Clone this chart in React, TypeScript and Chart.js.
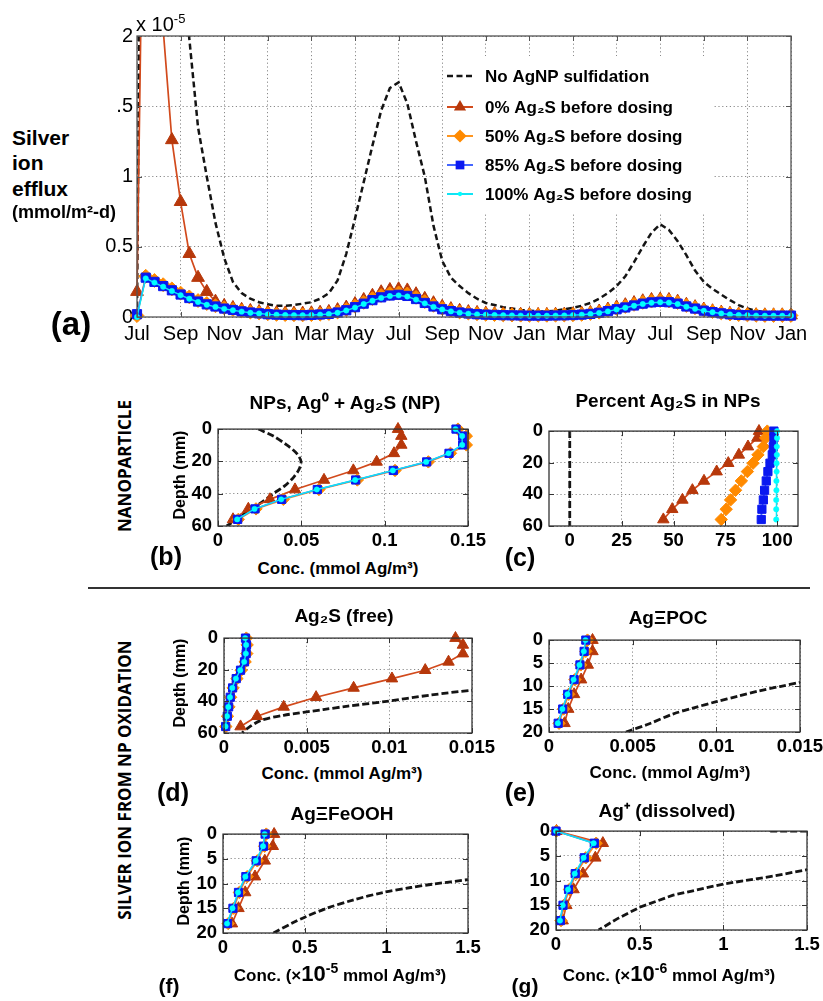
import React, { useEffect, useRef } from 'react';
import { Chart, registerables } from 'chart.js';

Chart.register(...registerables);

const FONT = '"Liberation Sans", Arial, Helvetica, sans-serif';
const SIDE_FONT = '"Open Sans", "Liberation Sans", Arial, sans-serif';

// ---------------- Panel (a): silver ion efflux (x 1e-5 mmol/m2-d) ----------------
const MONTH_STEP = 0.4; // months between model outputs, starting in July
const monthTickValues = [0, 2, 4, 6, 8, 10, 12, 14, 16, 18, 20, 22, 24, 26, 28, 30];
const monthTickLabels = ['Jul', 'Sep', 'Nov', 'Jan', 'Mar', 'May', 'Jul', 'Sep', 'Nov', 'Jan', 'Mar', 'May', 'Jul', 'Sep', 'Nov', 'Jan'];
const effluxTickValues = [0, 0.5, 1, 1.5, 2];
const effluxTickLabels = ['0', '0.5', '1', '.5', '2'];
const seriesNames = [
  'No AgNP sulfidation',
  '0% Ag₂S before dosing',
  '50% Ag₂S before dosing',
  '85% Ag₂S before dosing',
  '100% Ag₂S before dosing',
];

const effluxNoSulf = [
  0, 8, 6, 4.8, 3.6, 2.7, 1.98, 1.35, 1.0, 0.67,
  0.42, 0.25, 0.17, 0.13, 0.105, 0.09, 0.08, 0.08, 0.085, 0.095,
  0.105, 0.13, 0.17, 0.26, 0.45, 0.7, 0.96, 1.22, 1.47, 1.63,
  1.67, 1.52, 1.25, 1.0, 0.65, 0.4, 0.28, 0.22, 0.17, 0.13,
  0.1, 0.085, 0.07, 0.06, 0.05, 0.045, 0.04, 0.04, 0.045, 0.055,
  0.065, 0.08, 0.1, 0.13, 0.17, 0.22, 0.29, 0.39, 0.5, 0.6,
  0.66, 0.62, 0.54, 0.44, 0.33, 0.25, 0.2, 0.16, 0.12, 0.085,
  0.06, 0.045, 0.035, 0.025, 0.02, 0.015,
];
const efflux0 = [
  0.18, 4.5, 2.9, 2.05, 1.26, 0.82, 0.45, 0.28, 0.18, 0.11,
  0.08, 0.065, 0.052, 0.044, 0.037, 0.032, 0.028, 0.026, 0.025, 0.025,
  0.027, 0.031, 0.037, 0.05, 0.068, 0.093, 0.122, 0.152, 0.177, 0.193,
  0.198, 0.19, 0.163, 0.13, 0.099, 0.074, 0.057, 0.045, 0.036, 0.03,
  0.025, 0.022, 0.02, 0.018, 0.017, 0.016, 0.016, 0.016, 0.017, 0.018,
  0.02, 0.024, 0.03, 0.04, 0.054, 0.069, 0.085, 0.1, 0.113, 0.122,
  0.125, 0.122, 0.11, 0.088, 0.071, 0.054, 0.042, 0.032, 0.024, 0.019,
  0.016, 0.014, 0.013, 0.013, 0.013, 0.013,
];
const efflux50 = [
  0.01, 0.29, 0.26, 0.23, 0.2, 0.17, 0.143, 0.117, 0.096, 0.08,
  0.065, 0.054, 0.044, 0.035, 0.029, 0.023, 0.019, 0.017, 0.016, 0.015,
  0.017, 0.02, 0.025, 0.036, 0.053, 0.077, 0.104, 0.131, 0.153, 0.167,
  0.172, 0.164, 0.14, 0.11, 0.083, 0.061, 0.047, 0.036, 0.028, 0.023,
  0.019, 0.017, 0.015, 0.014, 0.013, 0.012, 0.012, 0.012, 0.013, 0.014,
  0.016, 0.019, 0.025, 0.034, 0.047, 0.061, 0.075, 0.09, 0.104, 0.113,
  0.117, 0.114, 0.103, 0.082, 0.066, 0.05, 0.039, 0.029, 0.021, 0.017,
  0.015, 0.012, 0.011, 0.011, 0.011, 0.011,
];
const efflux85 = [
  0.02, 0.28, 0.25, 0.22, 0.19, 0.16, 0.135, 0.11, 0.09, 0.075,
  0.06, 0.05, 0.04, 0.032, 0.026, 0.02, 0.017, 0.015, 0.014, 0.013,
  0.015, 0.018, 0.022, 0.032, 0.048, 0.07, 0.095, 0.12, 0.14, 0.153,
  0.158, 0.15, 0.128, 0.1, 0.075, 0.055, 0.042, 0.032, 0.025, 0.02,
  0.017, 0.015, 0.013, 0.012, 0.011, 0.01, 0.01, 0.01, 0.011, 0.012,
  0.014, 0.017, 0.022, 0.03, 0.042, 0.055, 0.068, 0.082, 0.095, 0.104,
  0.108, 0.105, 0.095, 0.075, 0.06, 0.045, 0.035, 0.026, 0.019, 0.015,
  0.013, 0.011, 0.01, 0.01, 0.01, 0.01,
];
const efflux100 = [
  0.0, 0.275, 0.245, 0.215, 0.185, 0.155, 0.13, 0.107, 0.087, 0.072,
  0.058, 0.048, 0.038, 0.03, 0.025, 0.019, 0.016, 0.014, 0.013, 0.012,
  0.014, 0.017, 0.021, 0.03, 0.046, 0.067, 0.092, 0.116, 0.136, 0.149,
  0.154, 0.146, 0.124, 0.097, 0.072, 0.053, 0.04, 0.031, 0.024, 0.019,
  0.016, 0.014, 0.012, 0.011, 0.01, 0.009, 0.009, 0.009, 0.01, 0.011,
  0.013, 0.016, 0.021, 0.029, 0.04, 0.053, 0.066, 0.08, 0.092, 0.101,
  0.105, 0.102, 0.092, 0.073, 0.058, 0.044, 0.034, 0.025, 0.018, 0.014,
  0.012, 0.01, 0.009, 0.009, 0.009, 0.009,
];

// ---------------- Depth profiles ----------------
const depthCoarse = [0, 4.3, 9.8, 15, 20.3, 25.6, 31.5, 37.4, 43.5, 49.4, 55.9];
const depthFine = [0, 2.45, 5.4, 8.6, 11.8, 15, 18.1];
const depthTicksDeep = [0, 20, 40, 60];
const depthTicksShallow = [0, 5, 10, 15, 20];

// (b) NPs, Ag0 + Ag2S (mmol Ag/m3)
const npTicks = [0, 0.05, 0.1, 0.15];
const npNoSulfDepth = [0, 4.3, 9.8, 15, 20, 25, 30, 35, 40, 46, 51, 56, 60];
const npNoSulf = [0.0242, 0.0332, 0.0412, 0.0472, 0.0498, 0.0486, 0.0452, 0.0402, 0.0332, 0.0252, 0.0172, 0.0112, 0.0052];
const np0 = [0.108, 0.11, 0.11, 0.1056, 0.0952, 0.0812, 0.0636, 0.0462, 0.0312, 0.0182, 0.009];
const np50 = [0.144, 0.149, 0.149, 0.1395, 0.1262, 0.1062, 0.0836, 0.0606, 0.0392, 0.0228, 0.0122];
const np85 = [0.1428, 0.1468, 0.1468, 0.1386, 0.1252, 0.1052, 0.0826, 0.0596, 0.0382, 0.0222, 0.0118];
const np100 = [0.1425, 0.1465, 0.1465, 0.1383, 0.1249, 0.1049, 0.0823, 0.0593, 0.0379, 0.0219, 0.0115];

// (c) Percent Ag2S in NPs
const pctTicks = [0, 25, 50, 75, 100];
const pctNoSulfDepth = [0, 60];
const pctNoSulf = [0, 0];
const pct0 = [91.2, 90.4, 85.9, 81.5, 76.4, 70.8, 64.7, 59.1, 54.3, 49.4, 45.1];
const pct50 = [95.2, 94.4, 93.3, 90.7, 88.3, 85.6, 82.7, 79.9, 77.5, 75.4, 73.0];
const pct85 = [98.4, 98.4, 98.1, 97.6, 96.5, 95.5, 94.7, 93.9, 93.3, 92.6, 92.3];
const pct100 = [99.9, 99.9, 99.8, 99.8, 99.7, 99.7, 99.6, 99.6, 99.5, 99.5, 99.5];

// (d) Ag2S (free)
const smallConcTicks = [0, 0.005, 0.01, 0.015];
const freeNoSulfDepth = [30, 33, 36, 40.2, 43, 45.2, 48.8, 52.2, 57.2, 60];
const freeNoSulf = [0.019, 0.015, 0.0125, 0.0097, 0.0075, 0.006, 0.0036, 0.0022, 0.0014, 0.0011];
const free0 = [0.014, 0.01445, 0.01445, 0.01358, 0.01217, 0.01016, 0.00784, 0.00557, 0.00361, 0.002, 0.001];
const free50 = [0.00135, 0.0014, 0.00138, 0.00128, 0.00104, 0.00078, 0.00055, 0.0004, 0.0003, 0.00021, 0.00011];
const free85 = [0.0013, 0.00136, 0.00134, 0.00124, 0.001, 0.00074, 0.00052, 0.00038, 0.00028, 0.0002, 0.0001];
const free100 = [0.00128, 0.00134, 0.00132, 0.00122, 0.00098, 0.00072, 0.0005, 0.00036, 0.00026, 0.00018, 0.00009];

// (e) Ag≡POC
const pocNoSulfDepth = [20, 18.2, 16.1, 14.8, 13.4, 12.2, 11.1, 10.1, 9.2, 8];
const pocNoSulf = [0.0046, 0.006, 0.0074, 0.0086, 0.01, 0.0113, 0.0125, 0.0138, 0.015, 0.0168];
const poc0 = [0.0026, 0.0026, 0.00232, 0.00192, 0.0015, 0.00115, 0.00093];
const poc50 = [0.0023, 0.0022, 0.0019, 0.00155, 0.00118, 0.00087, 0.0006];
const poc85 = [0.0022, 0.0021, 0.00185, 0.0015, 0.00112, 0.00082, 0.00055];
const poc100 = [0.00218, 0.00208, 0.00182, 0.00147, 0.0011, 0.0008, 0.00053];

// (f) Ag≡FeOOH (x 1e-5 mmol Ag/m3)
const unitTicks = [0, 0.5, 1, 1.5];
const feoohNoSulfDepth = [20, 17.9, 16.8, 15, 13.3, 11.8, 10.8, 10.1, 9.2, 8.3];
const feoohNoSulf = [0.309, 0.43, 0.5, 0.635, 0.8, 0.98, 1.15, 1.29, 1.5, 1.7];
const feooh0 = [0.313, 0.305, 0.256, 0.196, 0.136, 0.095, 0.055];
const feooh50 = [0.265, 0.255, 0.21, 0.148, 0.1, 0.066, 0.032];
const feooh85 = [0.258, 0.248, 0.203, 0.14, 0.095, 0.061, 0.028];
const feooh100 = [0.255, 0.245, 0.2, 0.137, 0.092, 0.058, 0.025];

// (g) Ag+ dissolved (x 1e-6 mmol Ag/m3)
const dissNoSulfDepth = [0, 2.45, 5.4, 7.2, 7.8, 9.1, 10.7, 12.95, 15.4, 17.75, 20];
const dissNoSulf = [1.28, 30, 4, 1.75, 1.5, 1.3, 1.0, 0.7, 0.5, 0.365, 0.255];
const diss0 = [0.003, 0.28, 0.235, 0.161, 0.105, 0.062, 0.04];
const diss50 = [0.002, 0.24, 0.178, 0.122, 0.08, 0.047, 0.03];
const diss85 = [0, 0.229, 0.169, 0.115, 0.075, 0.042, 0.026];
const diss100 = [0, 0.225, 0.165, 0.112, 0.072, 0.04, 0.024];

// ---------------- Styles ----------------
const COLORS = {
  noSulf: '#141414',
  s0Line: '#D24A1C', s0Mark: '#B7380B',
  s50Line: '#FF9620', s50Mark: '#FF8A00',
  s85Line: '#4466FF', s85Mark: '#0A18F0',
  s100Line: '#10E4F4', s100Mark: '#00FFFF',
};

function seriesStyle(key: string, big: boolean): any {
  const k = big ? 1.12 : 1;
  switch (key) {
    case 'noSulf':
      return { borderColor: COLORS.noSulf, borderWidth: big ? 2.5 : 2.8, borderDash: big ? [6, 3.5] : [7, 3], pointRadius: 0 };
    case 's0':
      return { borderColor: COLORS.s0Line, borderWidth: 1.7, pointStyle: 'triangle', pointRadius: 6.6 * k, pointBackgroundColor: COLORS.s0Mark, pointBorderColor: COLORS.s0Mark, pointBorderWidth: 1 };
    case 's50':
      return { borderColor: COLORS.s50Line, borderWidth: 1.7, pointStyle: 'rectRot', pointRadius: 6.2 * k, pointBackgroundColor: COLORS.s50Mark, pointBorderColor: COLORS.s50Mark, pointBorderWidth: 1 };
    case 's85':
      return { borderColor: COLORS.s85Line, borderWidth: 1.6, pointStyle: 'rect', pointRadius: 5.8 * k, pointBackgroundColor: COLORS.s85Mark, pointBorderColor: COLORS.s85Mark, pointBorderWidth: 1 };
    default:
      return { borderColor: COLORS.s100Line, borderWidth: 1.4, pointStyle: 'circle', pointRadius: 2.7, pointBackgroundColor: COLORS.s100Mark, pointBorderColor: COLORS.s100Mark, pointBorderWidth: 0.5 };
  }
}

// ---------------- Plugins ----------------
const framePlugin = {
  id: 'frameBox',
  afterDraw(chart: any) {
    const { ctx, chartArea: a } = chart;
    const color = chart.options.frameColor || '#444';
    ctx.save();
    ctx.strokeStyle = color;
    ctx.lineWidth = 1.3;
    ctx.strokeRect(a.left, a.top, a.right - a.left, a.bottom - a.top);
    ctx.lineWidth = 1;
    ctx.beginPath();
    const xs = chart.scales.x;
    const ys = chart.scales.y;
    xs.ticks.forEach((t: any) => {
      const px = Math.round(xs.getPixelForValue(t.value)) + 0.5;
      ctx.moveTo(px, a.bottom); ctx.lineTo(px, a.bottom - 5);
      ctx.moveTo(px, a.top); ctx.lineTo(px, a.top + 5);
    });
    ys.ticks.forEach((t: any) => {
      const py = Math.round(ys.getPixelForValue(t.value)) + 0.5;
      ctx.moveTo(a.left, py); ctx.lineTo(a.left + 5, py);
      ctx.moveTo(a.right, py); ctx.lineTo(a.right - 5, py);
    });
    ctx.stroke();
    ctx.restore();
  },
};

function drawMarker(ctx: any, shape: string, x: number, y: number, r: number, color: string) {
  ctx.fillStyle = color;
  ctx.beginPath();
  if (shape === 'triangle') {
    ctx.moveTo(x, y - r);
    ctx.lineTo(x + r * 0.866, y + r * 0.5);
    ctx.lineTo(x - r * 0.866, y + r * 0.5);
  } else if (shape === 'rectRot') {
    ctx.moveTo(x, y - r); ctx.lineTo(x + r, y); ctx.lineTo(x, y + r); ctx.lineTo(x - r, y);
  } else if (shape === 'rect') {
    const s = r * 0.7071;
    ctx.rect(x - s, y - s, 2 * s, 2 * s);
  } else {
    ctx.arc(x, y, r, 0, Math.PI * 2);
  }
  ctx.closePath();
  ctx.fill();
}

const legendPlugin = {
  id: 'effluxLegend',
  afterDraw(chart: any) {
    const { ctx, chartArea: a } = chart;
    const bx = a.left + 306;
    const by = a.top + 20;
    ctx.save();
    ctx.fillStyle = '#fff';
    ctx.fillRect(bx, by, 270, 158);
    const rows = [40, 71, 100, 129, 158];
    const keys = ['noSulf', 's0', 's50', 's85', 's100'];
    const lx0 = a.left + 310, lx1 = a.left + 336, mx = a.left + 323, tx = a.left + 348;
    keys.forEach((key, i) => {
      const y = a.top + rows[i];
      const st = seriesStyle(key, true);
      ctx.save();
      ctx.strokeStyle = key === 'noSulf' ? COLORS.noSulf : st.borderColor;
      ctx.lineWidth = key === 'noSulf' ? 2.6 : 2;
      if (key === 'noSulf') ctx.setLineDash([6, 3.5]);
      ctx.beginPath(); ctx.moveTo(lx0, y); ctx.lineTo(lx1, y); ctx.stroke();
      ctx.restore();
      if (key !== 'noSulf') drawMarker(ctx, st.pointStyle, mx, y, st.pointRadius * (key === 's100' ? 0.8 : 0.95), st.pointBackgroundColor);
      ctx.fillStyle = '#000';
      ctx.font = `bold 17px ${FONT}`;
      ctx.textBaseline = 'middle';
      ctx.textAlign = 'left';
      ctx.fillText(seriesNames[i], tx, y + 1);
    });
    ctx.restore();
  },
};

// ---------------- Geometry ----------------
const A_PLOT = { l: 137, t: 34, r: 791, b: 317 };
const A_GEOM = { yW: 60, padT: 14, padR: 28, xH: 42 };
const P_GEOM = { yW: 50, padT: 12, padR: 28, xH: 30 };

function canvasRect(p: any, g: any) {
  return { x: p.l - g.yW, y: p.t - g.padT, w: g.yW + (p.r - p.l) + g.padR, h: g.padT + (p.b - p.t) + g.xH };
}

function baseOptions(g: any) {
  return {
    responsive: false,
    animation: false,
    devicePixelRatio: 1,
    events: [],
    layout: { padding: { top: g.padT, right: g.padR, left: 0, bottom: 0 } },
    plugins: { legend: { display: false }, tooltip: { enabled: false } },
  };
}

function effluxConfig() {
  const pts = (vals: number[]) => vals.map((v, i) => ({ x: i * MONTH_STEP, y: v }));
  const mclip = { left: 9, right: 9, top: 0, bottom: 9 };
  return {
    type: 'line',
    data: {
      datasets: [
        { label: seriesNames[4], data: pts(efflux100), ...seriesStyle('s100', true), clip: mclip },
        { label: seriesNames[3], data: pts(efflux85), ...seriesStyle('s85', true), clip: mclip },
        { label: seriesNames[2], data: pts(efflux50), ...seriesStyle('s50', true), clip: mclip },
        { label: seriesNames[1], data: pts(efflux0), ...seriesStyle('s0', true), clip: mclip },
        { label: seriesNames[0], data: pts(effluxNoSulf), ...seriesStyle('noSulf', true), clip: 0 },
      ],
    },
    options: {
      ...baseOptions(A_GEOM),
      frameColor: '#555',
      scales: {
        x: {
          type: 'linear', min: 0, max: 30,
          afterBuildTicks: (s: any) => { s.ticks = monthTickValues.map((v) => ({ value: v })); },
          afterFit: (s: any) => { s.height = A_GEOM.xH; },
          ticks: { autoSkip: false, maxRotation: 0, padding: 5, color: '#000', font: { family: FONT, size: 20 }, callback: (_v: any, i: number) => monthTickLabels[i] },
          grid: { color: '#8a8a8a', lineWidth: 1, drawTicks: false },
          border: { display: false, dash: [1.2, 2.6] },
        },
        y: {
          type: 'linear', min: 0, max: 2,
          afterBuildTicks: (s: any) => { s.ticks = effluxTickValues.map((v) => ({ value: v })); },
          afterFit: (s: any) => { s.width = A_GEOM.yW; },
          ticks: { autoSkip: false, padding: 4, color: '#000', font: { family: FONT, size: 20 }, callback: (_v: any, i: number) => effluxTickLabels[i] },
          grid: { color: '#8a8a8a', lineWidth: 1, drawTicks: false },
          border: { display: false, dash: [1.2, 2.6] },
        },
      },
    },
    plugins: [framePlugin, legendPlugin],
  };
}

function profileConfig(p: any) {
  const mclip = { left: 9, right: 9, top: 9, bottom: 0 };
  const datasets = p.series.map((s: any) => ({
    data: s.x.map((v: number, i: number) => ({ x: v, y: s.y[i] })),
    ...seriesStyle(s.key, false),
    tension: s.tension || 0,
    clip: s.key === 'noSulf' ? 0 : mclip,
  }));
  const tickFont = { family: FONT, size: 18.5, weight: 'bold' };
  return {
    type: 'line',
    data: { datasets },
    options: {
      ...baseOptions(P_GEOM),
      frameColor: '#333',
      scales: {
        x: {
          type: 'linear', min: p.xMin, max: p.xMax,
          afterBuildTicks: (s: any) => { s.ticks = p.xTicks.map((v: number) => ({ value: v })); },
          afterFit: (s: any) => { s.height = P_GEOM.xH; },
          ticks: { autoSkip: false, maxRotation: 0, padding: 4, color: '#000', font: tickFont, callback: (v: any) => String(v) },
          grid: { color: '#8a8a8a', lineWidth: 1, drawTicks: false },
          border: { display: false, dash: [1.2, 2.6] },
        },
        y: {
          type: 'linear', min: 0, max: p.yMax, reverse: true,
          afterBuildTicks: (s: any) => { s.ticks = p.yTicks.map((v: number) => ({ value: v })); },
          afterFit: (s: any) => { s.width = P_GEOM.yW; },
          ticks: { autoSkip: false, padding: 6, color: '#000', font: tickFont, callback: (v: any) => String(v) },
          grid: { color: '#8a8a8a', lineWidth: 1, drawTicks: false },
          border: { display: false, dash: [1.2, 2.6] },
        },
      },
    },
    plugins: [framePlugin],
  };
}

const PANELS: any = {
  b: {
    plot: { l: 218, t: 424, r: 468, b: 526 }, xMin: 0, xMax: 0.15, xTicks: npTicks, yMax: 60, yTicks: depthTicksDeep,
    series: [
      { key: 's100', x: np100, y: depthCoarse },
      { key: 's85', x: np85, y: depthCoarse },
      { key: 's50', x: np50, y: depthCoarse },
      { key: 's0', x: np0, y: depthCoarse },
      { key: 'noSulf', x: npNoSulf, y: npNoSulfDepth, tension: 0.3 },
    ],
  },
  c: {
    plot: { l: 549, t: 426, r: 798, b: 526 }, xMin: -10, xMax: 110, xTicks: pctTicks, yMax: 60, yTicks: depthTicksDeep,
    series: [
      { key: 's100', x: pct100, y: depthCoarse },
      { key: 's85', x: pct85, y: depthCoarse },
      { key: 's50', x: pct50, y: depthCoarse },
      { key: 's0', x: pct0, y: depthCoarse },
      { key: 'noSulf', x: pctNoSulf, y: pctNoSulfDepth },
    ],
  },
  d: {
    plot: { l: 224, t: 633, r: 472, b: 733 }, xMin: 0, xMax: 0.015, xTicks: smallConcTicks, yMax: 60, yTicks: depthTicksDeep,
    series: [
      { key: 's100', x: free100, y: depthCoarse },
      { key: 's85', x: free85, y: depthCoarse },
      { key: 's50', x: free50, y: depthCoarse },
      { key: 's0', x: free0, y: depthCoarse },
      { key: 'noSulf', x: freeNoSulf, y: freeNoSulfDepth, tension: 0.3 },
    ],
  },
  e: {
    plot: { l: 549, t: 635, r: 800, b: 732 }, xMin: 0, xMax: 0.015, xTicks: smallConcTicks, yMax: 20, yTicks: depthTicksShallow,
    series: [
      { key: 's100', x: poc100, y: depthFine },
      { key: 's85', x: poc85, y: depthFine },
      { key: 's50', x: poc50, y: depthFine },
      { key: 's0', x: poc0, y: depthFine },
      { key: 'noSulf', x: pocNoSulf, y: pocNoSulfDepth, tension: 0.3 },
    ],
  },
  f: {
    plot: { l: 223, t: 829, r: 468, b: 933 }, xMin: 0, xMax: 1.5, xTicks: unitTicks, yMax: 20, yTicks: depthTicksShallow,
    series: [
      { key: 's100', x: feooh100, y: depthFine },
      { key: 's85', x: feooh85, y: depthFine },
      { key: 's50', x: feooh50, y: depthFine },
      { key: 's0', x: feooh0, y: depthFine },
      { key: 'noSulf', x: feoohNoSulf, y: feoohNoSulfDepth, tension: 0.3 },
    ],
  },
  g: {
    plot: { l: 556, t: 826, r: 807, b: 930 }, xMin: 0, xMax: 1.5, xTicks: unitTicks, yMax: 20, yTicks: depthTicksShallow,
    series: [
      { key: 's100', x: diss100, y: depthFine },
      { key: 's85', x: diss85, y: depthFine },
      { key: 's50', x: diss50, y: depthFine },
      { key: 's0', x: diss0, y: depthFine },
      { key: 'noSulf', x: dissNoSulf, y: dissNoSulfDepth },
    ],
  },
};

// ---------------- Components ----------------
function ChartBox({ rect, build }: any) {
  const ref = useRef<HTMLCanvasElement>(null);
  useEffect(() => {
    const chart = new Chart(ref.current as any, build());
    return () => chart.destroy();
  }, []);
  return (
    <canvas
      ref={ref}
      width={rect.w}
      height={rect.h}
      style={{ position: 'absolute', left: rect.x, top: rect.y, width: rect.w, height: rect.h }}
    />
  );
}

function Txt({ x, y, size, bold = true, rotate = false, anchor = 'center', family = FONT, children }: any) {
  const tx = anchor === 'left' ? '0' : '-50%';
  return (
    <div
      style={{
        position: 'absolute', left: x, top: y,
        transform: `translate(${tx}, -50%)${rotate ? ' rotate(-90deg)' : ''}`,
        fontFamily: family, fontSize: size, fontWeight: bold ? 700 : 400,
        whiteSpace: 'nowrap', lineHeight: 1, color: '#000',
      }}
    >
      {children}
    </div>
  );
}

function Sup({ children, size }: any) {
  return <span style={{ fontSize: size, position: 'relative', top: '-0.6em', verticalAlign: 'baseline' }}>{children}</span>;
}

function Panel({ id }: any) {
  const p = PANELS[id];
  return <ChartBox rect={canvasRect(p.plot, P_GEOM)} build={() => profileConfig(p)} />;
}

export default function App() {
  return (
    <div style={{ position: 'absolute', left: 0, top: 0, width: 823, height: 1001, background: '#fff', overflow: 'hidden' }}>
      <ChartBox rect={canvasRect(A_PLOT, A_GEOM)} build={effluxConfig} />
      <Txt x={136} y={24} size={20} bold={false} anchor="left">x 10<Sup size={13}>-5</Sup></Txt>
      <Txt x={12} y={137} size={21} anchor="left">Silver</Txt>
      <Txt x={12} y={162} size={21} anchor="left">ion</Txt>
      <Txt x={12} y={188} size={21} anchor="left">efflux</Txt>
      <Txt x={12} y={212} size={18} anchor="left">(mmol/m²-d)</Txt>
      <Txt x={71} y={323} size={33}>(a)</Txt>

      <Panel id="b" />
      <Panel id="c" />
      <Panel id="d" />
      <Panel id="e" />
      <Panel id="f" />
      <Panel id="g" />

      <Txt x={124} y={466} size={17} rotate family={SIDE_FONT}>NANOPARTICLE</Txt>
      <div style={{ position: 'absolute', left: 88, top: 587, width: 722, height: 2, background: '#333' }} />
      <Txt x={124} y={780} size={17} rotate family={SIDE_FONT}>SILVER ION FROM NP OXIDATION</Txt>

      <Txt x={345} y={402} size={19}>NPs, Ag⁰ + Ag₂S (NP)</Txt>
      <Txt x={180} y={475} size={16} rotate>Depth (mm)</Txt>
      <Txt x={338} y={568} size={17}>Conc. (mmol Ag/m³)</Txt>
      <Txt x={166} y={556} size={25}>(b)</Txt>

      <Txt x={668} y={400} size={19}>Percent Ag₂S in NPs</Txt>
      <Txt x={520} y={557} size={25}>(c)</Txt>

      <Txt x={344} y={615} size={19}>Ag₂S (free)</Txt>
      <Txt x={180} y={683} size={16} rotate>Depth (mm)</Txt>
      <Txt x={342} y={773} size={17}>Conc. (mmol Ag/m³)</Txt>
      <Txt x={173} y={792} size={25}>(d)</Txt>

      <Txt x={668} y={617} size={19}>AgΞPOC</Txt>
      <Txt x={670} y={772} size={17}>Conc. (mmol Ag/m³)</Txt>
      <Txt x={520} y={792} size={25}>(e)</Txt>

      <Txt x={342} y={813} size={19}>AgΞFeOOH</Txt>
      <Txt x={184} y={881} size={16} rotate>Depth (mm)</Txt>
      <Txt x={340} y={974} size={17}>Conc. (×<span style={{ fontSize: 22 }}>10</span><Sup size={14}>-5</Sup> mmol Ag/m³)</Txt>
      <Txt x={169} y={985} size={21}>(f)</Txt>

      <Txt x={667} y={810} size={19}>Ag⁺ (dissolved)</Txt>
      <Txt x={669} y={974} size={17}>Conc. (×<span style={{ fontSize: 22 }}>10</span><Sup size={14}>-6</Sup> mmol Ag/m³)</Txt>
      <Txt x={525} y={985} size={21}>(g)</Txt>
    </div>
  );
}
